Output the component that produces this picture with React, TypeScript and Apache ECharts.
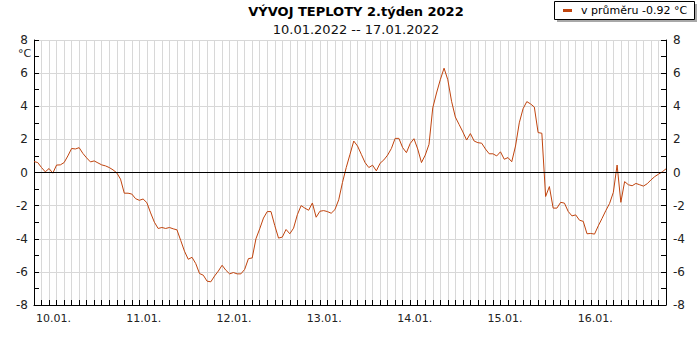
import React, { useEffect, useRef } from "react";
import * as echarts from "echarts";

// Hourly temperatures (°C), 10.01.2022 00:00 … 17.01.2022 00:00
const day10 = [0.66, 0.6, 0.3, 0.04, 0.24, -0.04, 0.45, 0.46, 0.6, 1.0, 1.45, 1.42, 1.5, 1.15, 0.88, 0.64, 0.7, 0.58, 0.46, 0.4, 0.3, 0.16, -0.02, -0.4];
const day11 = [-1.25, -1.25, -1.3, -1.58, -1.68, -1.6, -1.82, -2.44, -3.0, -3.38, -3.32, -3.38, -3.32, -3.4, -3.46, -4.1, -4.75, -5.24, -5.12, -5.5, -6.1, -6.2, -6.56, -6.6];
const day12 = [-6.25, -5.95, -5.6, -5.9, -6.12, -6.04, -6.12, -6.12, -5.85, -5.2, -5.16, -4.0, -3.4, -2.75, -2.36, -2.36, -3.2, -3.96, -3.9, -3.44, -3.7, -3.36, -2.55, -2.0];
const day13 = [-2.15, -2.28, -1.84, -2.7, -2.34, -2.3, -2.36, -2.46, -2.24, -1.65, -0.6, 0.3, 1.1, 1.9, 1.6, 1.1, 0.6, 0.3, 0.44, 0.1, 0.56, 0.76, 1.05, 1.45];
const day14 = [2.06, 2.06, 1.5, 1.2, 1.75, 2.04, 1.42, 0.6, 1.05, 1.7, 3.9, 4.8, 5.6, 6.3, 5.6, 4.3, 3.35, 2.9, 2.45, 1.96, 2.35, 1.9, 1.8, 1.77];
const day15 = [1.42, 1.13, 1.13, 1.0, 1.25, 0.8, 0.9, 0.65, 1.6, 3.0, 3.85, 4.28, 4.14, 3.95, 2.41, 2.37, -1.45, -0.85, -2.15, -2.15, -1.8, -1.85, -2.35, -2.62];
const day16 = [-2.56, -2.88, -2.95, -3.7, -3.68, -3.72, -3.22, -2.77, -2.3, -1.87, -1.2, 0.45, -1.8, -0.55, -0.74, -0.8, -0.66, -0.74, -0.82, -0.68, -0.45, -0.25, -0.1, 0.04];
const day17 = [0.22];

const dayLabels = ["10.01.", "11.01.", "12.01.", "13.01.", "14.01.", "15.01.", "16.01."];
const titleText = "VÝVOJ TEPLOTY 2.týden 2022";
const subtitleText = "10.01.2022 -- 17.01.2022";
const legendText = "v průměru -0.92 °C";
const unitText = "°C";

const temps = [...day10, ...day11, ...day12, ...day13, ...day14, ...day15, ...day16, ...day17];

const FONT = "DejaVu Sans";
const LINE_COLOR = "#c0440e";
const GRID_COLOR = "#d8d8d8";

export default function App() {
  const ref = useRef<HTMLDivElement>(null);

  useEffect(() => {
    if (!ref.current) return;
    const chart = echarts.init(ref.current, undefined, { renderer: "svg" });
    const data = temps.map((v, i) => [i, v]);

    const yAxisBase = {
      type: "value",
      min: -8,
      max: 8,
      interval: 2,
      axisLine: { show: true, lineStyle: { color: "#000", width: 1 } },
      axisTick: { show: true, inside: true, length: 5, lineStyle: { color: "#000" } },
      minorTick: { show: true, splitNumber: 2, length: 5, lineStyle: { color: "#000" } },
      axisLabel: { fontFamily: FONT, fontSize: 12, color: "#222", margin: 6 },
    };

    chart.setOption({
      animation: false,
      backgroundColor: "#fff",
      title: {
        text: titleText,
        subtext: subtitleText,
        left: 351,
        textAlign: "center",
        top: 0,
        itemGap: 5,
        textStyle: { fontFamily: FONT, fontSize: 13, fontWeight: "bold", color: "#000" },
        subtextStyle: { fontFamily: FONT, fontSize: 13, color: "#111" },
      },
      grid: { left: 34, right: 34, top: 40, bottom: 45 },
      xAxis: {
        type: "value",
        min: 0,
        max: 168,
        interval: 2,
        axisLine: { show: true, onZero: false, lineStyle: { color: "#000", width: 1 } },
        axisTick: { show: true, inside: true, length: 5, lineStyle: { color: "#000" } },
        splitLine: { show: true, lineStyle: { color: GRID_COLOR, width: 1 } },
        axisLabel: {
          fontFamily: FONT,
          fontSize: 11,
          color: "#222",
          margin: 8,
          align: "left",
          padding: [0, 0, 0, 2],
          showMaxLabel: false,
          formatter: (v: number) => (v % 24 === 0 && v < 168 ? dayLabels[v / 24] : ""),
        },
      },
      yAxis: [
        {
          ...yAxisBase,
          position: "left",
          splitLine: { show: true, lineStyle: { color: GRID_COLOR, width: 1 } },
        },
        {
          ...yAxisBase,
          position: "right",
          splitLine: { show: false },
          axisLabel: { ...yAxisBase.axisLabel, margin: 7 },
        },
      ],
      series: [
        {
          type: "line",
          data,
          showSymbol: false,
          symbol: "none",
          lineStyle: { color: LINE_COLOR, width: 1 },
          markLine: {
            silent: true,
            symbol: "none",
            label: { show: false },
            lineStyle: { color: "#000", width: 1.2, type: "solid" },
            data: [{ yAxis: 0 }],
          },
          z: 3,
        },
      ],
      graphic: [
        {
          type: "text",
          left: 18,
          top: 48,
          style: { text: unitText, fontFamily: FONT, fontSize: 11, fill: "#222" },
        },
        {
          type: "rect",
          shape: { x: 557, y: 4, width: 140, height: 18 },
          style: { fill: "#a8a8a8" },
        },
        {
          type: "rect",
          shape: { x: 554.5, y: 1.5, width: 140, height: 18 },
          style: { fill: "#fff", stroke: "#000", lineWidth: 1 },
        },
        {
          type: "line",
          shape: { x1: 563, y1: 10.5, x2: 572, y2: 10.5 },
          style: { stroke: LINE_COLOR, lineWidth: 3 },
        },
        {
          type: "text",
          x: 581,
          y: 10.5,
          style: {
            text: legendText,
            fontFamily: FONT,
            fontSize: 11,
            fill: "#000",
            verticalAlign: "middle",
          },
        },
      ],
    });

    return () => chart.dispose();
  }, []);

  return (
    <div
      ref={ref}
      style={{ position: "fixed", left: 0, top: 0, width: 700, height: 350, background: "#fff" }}
    />
  );
}
